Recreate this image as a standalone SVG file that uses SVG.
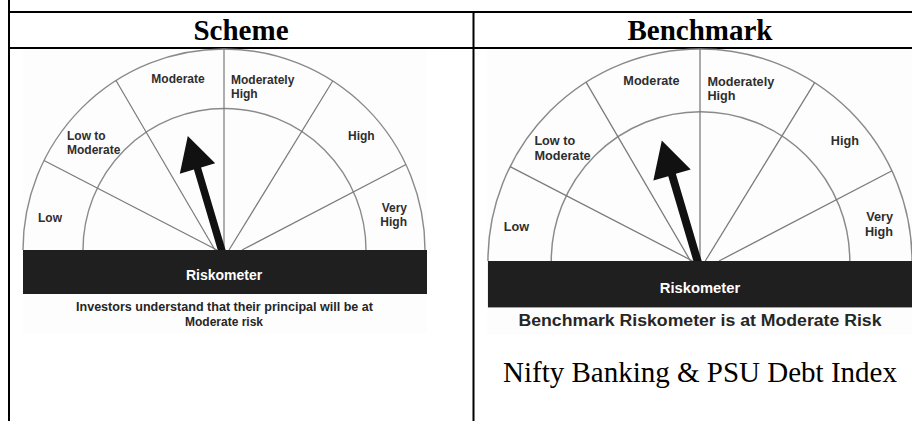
<svg xmlns="http://www.w3.org/2000/svg" width="912" height="421" viewBox="0 0 912 421">
<style>
.rule{stroke:#000;fill:none}
.arc{fill:none;stroke:#8a8a8a;stroke-width:1.4}
.seg{stroke:#7a7a7a;stroke-width:1.2}
.lbl{font-family:"Liberation Sans",Arial,sans-serif;font-weight:bold;font-size:12px;fill:#2e2e2e}
.bar{fill:#1f1f1f}
.barTxt{font-family:"Liberation Sans",Arial,sans-serif;font-weight:bold;font-size:14px;fill:#fff;text-anchor:middle}
.needle{fill:#111}
.cap{font-family:"Liberation Sans",Arial,sans-serif;font-weight:bold;fill:#262626;text-anchor:middle}
.head{font-family:"Liberation Serif","Times New Roman",serif;font-weight:bold;font-size:29px;fill:#000;text-anchor:middle}
.serif{font-family:"Liberation Serif","Times New Roman",serif;font-size:29px;fill:#000;text-anchor:middle}
.bg{fill:#fdfdfd}
</style>
<rect width="912" height="421" fill="#fff"/>

<g id="table">
  <line class="rule" x1="9" y1="0" x2="9" y2="421" stroke-width="2"/>
  <line class="rule" x1="8" y1="12" x2="912" y2="12" stroke-width="2"/>
  <line class="rule" x1="8" y1="48" x2="912" y2="48" stroke-width="2"/>
  <line class="rule" x1="473.5" y1="11" x2="473.5" y2="421" stroke-width="2"/>
</g>

<g id="headers">
  <text class="head" x="241" y="40">Scheme</text>
  <text class="head" x="700" y="40">Benchmark</text>
</g>

<rect class="bg" x="23" y="49" width="404" height="284"/>
<rect class="bg" x="487" y="49" width="425" height="286"/>

<g id="scheme-riskometer" transform="translate(224,250)">
  <path class="arc" d="M -201 0 A 201 201 0 0 1 201 0"/>
  <path class="arc" d="M -141 0 A 141 141 0 0 1 142 0"/>
  <g id="segments-left">
    <line class="seg" x1="-180" y1="-89.5" x2="-7" y2="0"/>
    <line class="seg" x1="-108" y1="-169.5" x2="-9" y2="0"/>
    <line class="seg" x1="0" y1="-201" x2="0" y2="0"/>
    <line class="seg" x1="108.7" y1="-169" x2="5" y2="0"/>
    <line class="seg" x1="182" y1="-85.5" x2="18" y2="0"/>
  </g>
  <text class="lbl" x="-46" y="-167" text-anchor="middle">Moderate</text>
  <text class="lbl" x="7" y="-166">Moderately</text>
  <text class="lbl" x="7" y="-152.5">High</text>
  <text class="lbl" x="-157" y="-110">Low to</text>
  <text class="lbl" x="-157" y="-96">Moderate</text>
  <text class="lbl" x="124" y="-110">High</text>
  <text class="lbl" x="-186" y="-28">Low</text>
  <text class="lbl" x="183" y="-38" text-anchor="end">Very</text>
  <text class="lbl" x="183" y="-24" text-anchor="end">High</text>
  <polygon class="needle" points="-36.2,-114.1 -8.8,-86.7 -22.9,-82.6 2.2,2 -5.1,4 -30.1,-80.4 -44.2,-76.3"/>
  <rect class="bar" x="-201" y="0" width="404" height="44"/>
  <text class="barTxt" x="0" y="30">Riskometer</text>
</g>

<g id="scheme-caption">
  <text class="cap" x="224.5" y="311" font-size="12" textLength="297" lengthAdjust="spacingAndGlyphs">Investors understand that their principal will be at</text>
  <text class="cap" x="224" y="325.5" font-size="12">Moderate risk</text>
</g>

<g id="benchmark-riskometer" transform="translate(700,261) scale(1.055)">
  <path class="arc" d="M -201 0 A 201 201 0 0 1 201 0"/>
  <path class="arc" d="M -141 0 A 141 141 0 0 1 142 0"/>
  <g id="segments-right">
    <line class="seg" x1="-180" y1="-89.5" x2="-7" y2="0"/>
    <line class="seg" x1="-108" y1="-169.5" x2="-9" y2="0"/>
    <line class="seg" x1="0" y1="-201" x2="0" y2="0"/>
    <line class="seg" x1="108.7" y1="-169" x2="5" y2="0"/>
    <line class="seg" x1="182" y1="-85.5" x2="18" y2="0"/>
  </g>
  <text class="lbl" x="-46" y="-167" text-anchor="middle">Moderate</text>
  <text class="lbl" x="7" y="-166">Moderately</text>
  <text class="lbl" x="7" y="-152.5">High</text>
  <text class="lbl" x="-157" y="-110">Low to</text>
  <text class="lbl" x="-157" y="-96">Moderate</text>
  <text class="lbl" x="124" y="-110">High</text>
  <text class="lbl" x="-186" y="-28">Low</text>
  <text class="lbl" x="183" y="-38" text-anchor="end">Very</text>
  <text class="lbl" x="183" y="-24" text-anchor="end">High</text>
  <polygon class="needle" points="-36.2,-114.1 -8.8,-86.7 -22.9,-82.6 2.2,2 -5.1,4 -30.1,-80.4 -44.2,-76.3"/>
  <rect class="bar" x="-201" y="0" width="404" height="44"/>
  <text class="barTxt" x="0" y="30">Riskometer</text>
</g>

<g id="benchmark-caption">
  <text class="cap" x="700" y="326" font-size="16" textLength="363" lengthAdjust="spacingAndGlyphs">Benchmark Riskometer is at Moderate Risk</text>
  <text class="serif" x="700" y="382">Nifty Banking &amp; PSU Debt Index</text>
</g>
</svg>
